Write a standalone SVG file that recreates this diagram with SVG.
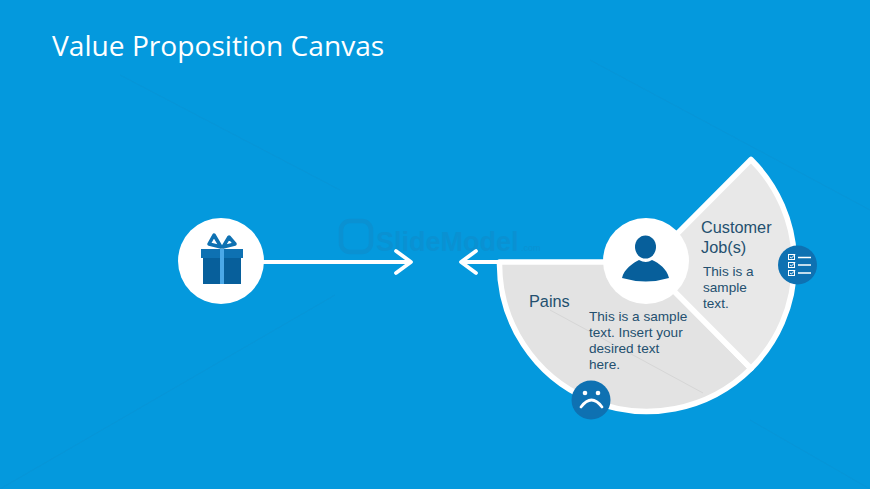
<svg xmlns="http://www.w3.org/2000/svg" width="870" height="489" viewBox="0 0 870 489">
<style>
.t{font-family:"Liberation Sans",Arial,sans-serif;fill:#24506f}
.h{font-size:16.3px}
.b{font-size:13.6px}
.w{fill:none;stroke:#fff;stroke-linecap:round;stroke-linejoin:round}
.i{fill:#0e71b2}
.d{fill:#075f9b}
.s{stroke:#fff;stroke-width:5.5;stroke-linejoin:round}
</style>
<rect width="870" height="489" fill="#0499dd"/>
<g id="background-lines" stroke="#0b92d2" stroke-width="1" fill="none" opacity=".5">
<path d="M0 489L335 295M120 75L340 190M750 420L870 489M590 60L870 210"/>
</g>
<g id="watermark">
<rect x="341" y="221" width="30" height="31" rx="9" fill="none" stroke="#0a91d2" stroke-width="4.500"/>
<text x="376" y="251" font-family="'Liberation Sans',Arial,sans-serif" font-size="27" font-weight="700" fill="#0a91d2">SlideModel</text>
<text x="521" y="251" font-family="'Liberation Sans',Arial,sans-serif" font-size="9" fill="#0a91d2">.com</text>
</g>
<text id="title" x="52" y="56" font-family="'Open Sans',sans-serif" font-size="28.150" fill="#fff">Value Proposition Canvas</text>
<g id="connectors">
<path class="w" stroke-width="3.800" d="M262 262H410M396 251L411 262L396 273"/>
<path class="w" stroke-width="3.800" d="M500 262H462M476 251L461 262L476 273"/>
</g>
<g id="pains">
<path class="s" d="M499.500 262H647L751 368.500A147.500 147.500 0 0 1 499.500 262Z" fill="#e3e3e3"/>
<path d="M550 310L703 393" stroke="#d6d6d6" stroke-width="1" fill="none"/>
<text class="t h" x="529" y="307">Pains</text>
<text class="t b"><tspan x="589" y="321">This is a sample</tspan><tspan x="589" y="337">text. Insert your</tspan><tspan x="589" y="353">desired text</tspan><tspan x="589" y="369">here.</tspan></text>
</g>
<g id="customer-jobs">
<path class="s" d="M647 264L751 159.500A147.500 147.500 0 0 1 751 368.500Z" fill="#e8e8e8"/>
<text class="t h"><tspan x="701" y="233">Customer</tspan><tspan x="701" y="253">Job(s)</tspan></text>
<text class="t b"><tspan x="703" y="276">This is a</tspan><tspan x="703" y="292">sample</tspan><tspan x="703" y="308">text.</tspan></text>
</g>
<g id="gift-node">
<circle cx="221" cy="261" r="43" fill="#fff"/>
<rect x="203" y="258" width="38" height="26" class="d"/>
<rect x="201" y="249" width="42" height="9" class="i"/>
<rect x="220" y="249" width="4" height="35" fill="#4aa8e8"/>
<path d="M221 247L209 244L214 235ZM223 247L235 244L229 237Z" fill="none" stroke="#0e71b2" stroke-width="3.500" stroke-linejoin="round"/>
</g>
<g id="customer-node">
<circle cx="646" cy="261" r="43" fill="#fff"/>
<ellipse cx="645.500" cy="247" rx="10.500" ry="11.500" class="d"/>
<path d="M622 278C624 269 633 263 639 260Q646 264 652 260C659 263 667 269 669 278Q646 285 622 278Z" class="d"/>
</g>
<g id="jobs-icon">
<circle cx="797.500" cy="265" r="19.500" class="i"/>
<g fill="none" stroke="#fff">
<g stroke-width="1">
<rect x="788.500" y="254.500" width="6" height="5"/><rect x="788.500" y="262.500" width="6" height="5"/><rect x="788.500" y="270.500" width="6" height="5"/>
<path d="M790 257L791.500 258L795 254.500M790 265L791.500 266L795 262.500M790 273L791.500 274L795 270.500"/>
</g>
<path d="M798 257.500H811M798 265H811M798 273H811" stroke-width="1.300"/>
</g>
</g>
<g id="pains-icon">
<circle cx="591" cy="400" r="19.500" class="i"/>
<circle cx="585" cy="393" r="2.300" fill="#fff"/>
<circle cx="598" cy="393" r="2.300" fill="#fff"/>
<path class="w" stroke-width="2.800" d="M581 407Q591.500 393 602 407"/>
</g>
</svg>
